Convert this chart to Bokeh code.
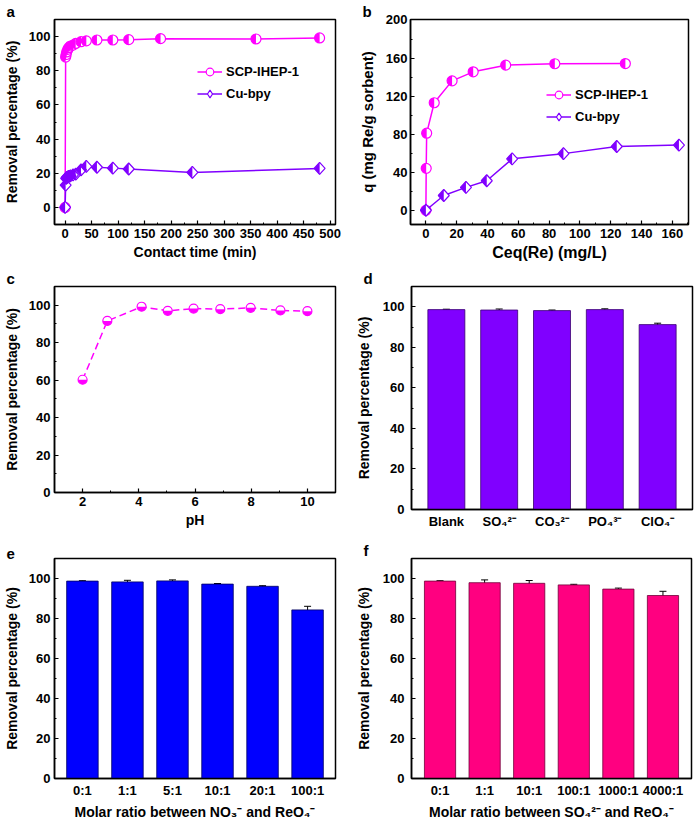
import math
from bokeh.plotting import figure
from bokeh.models import (Range1d, SingleIntervalTicker, FixedTicker, Legend, LegendItem,
                          Whisker, ColumnDataSource, TeeHead)
from bokeh.layouts import column, row
from bokeh.embed import file_html
from bokeh.resources import INLINE

FONT = "Liberation Sans"
MAGENTA = "#FF00FF"
PURPLE = "#8000FF"
BLUE = "#0000FF"
PINK = "#FF0080"

# ---------------- data ----------------
# (a) kinetics
a_time_scp = [0, 1, 2, 3, 5, 7, 10, 15, 20, 30, 40, 60, 90, 120, 180, 360, 480]
a_rem_scp = [0, 88, 89.5, 91, 92.5, 93.5, 94.5, 95, 96, 97, 97.5, 98, 98, 98.2, 98.8, 98.6, 99.2]
a_time_cu = [0, 1, 2, 3, 5, 7, 10, 15, 20, 30, 40, 60, 90, 120, 240, 480]
a_rem_cu = [0, 13, 17, 17.5, 17.8, 18.2, 18.5, 19, 19.5, 22, 24, 23.5, 23, 22.5, 20.5, 22.8]

# (b) isotherms
b_ceq_scp = [0, 0.2, 0.5, 5.4, 17, 30.7, 51.8, 83.7, 129.5]
b_q_scp = [0, 44, 81, 113, 136, 145.5, 152.5, 154, 154.2]
b_ceq_cu = [0, 11.6, 26, 39.5, 56, 89.3, 123.9, 164.3]
b_q_cu = [0, 15.5, 24, 31, 54, 59.5, 67, 68.5]

# (c) pH effect
c_ph = [2.0, 2.88, 4.1, 5.03, 5.95, 6.9, 7.98, 9.04, 10.0]
c_rem = [60.2, 91.6, 99.2, 97.0, 98.2, 97.9, 98.6, 97.2, 96.8]

# (d) competing anions
d_labels = ["Blank", "SO\u2084\u00b2\u207b", "CO\u2083\u00b2\u207b", "PO\u2084\u00b3\u207b", "ClO\u2084\u207b"]
d_vals = [98.6, 98.4, 98.1, 98.6, 91.2]
d_err = [0.2, 0.5, 0.3, 0.4, 0.7]

# (e) nitrate ratio
e_labels = ["0:1", "1:1", "5:1", "10:1", "20:1", "100:1"]
e_vals = [98.7, 98.3, 98.8, 97.2, 96.1, 84.3]
e_err = [0.2, 0.8, 0.5, 0.3, 0.3, 1.8]

# (f) sulfate ratio
f_labels = ["0:1", "1:1", "10:1", "100:1", "1000:1", "4000:1"]
f_vals = [98.7, 97.9, 97.6, 96.8, 94.7, 91.5]
f_err = [0.2, 1.4, 1.4, 0.3, 0.5, 2.1]

Y_TITLE = "Removal percentage (%)"


def make_fig(letter, xr, yr, fw, fh, bl, br, bt, bb):
    p = figure(title=letter, frame_width=fw, frame_height=fh,
               x_range=Range1d(*xr), y_range=Range1d(*yr),
               min_border_left=bl, min_border_right=br, min_border_top=bt, min_border_bottom=bb,
               output_backend="svg", toolbar_location=None)
    p.title.align = "left"
    p.title.offset = -48
    p.title.standoff = 0
    p.title.text_font = FONT
    p.title.text_font_style = "bold"
    p.title.text_font_size = "15px"
    p.title.text_color = "black"
    p.xgrid.visible = False
    p.ygrid.visible = False
    p.outline_line_color = "black"
    p.outline_line_width = 1.5
    p.outline_line_alpha = 1.0
    for ax in (p.xaxis[0], p.yaxis[0]):
        ax.axis_line_width = 1.5
        ax.axis_line_color = "black"
        ax.major_tick_in = 4
        ax.major_tick_out = 0
        ax.minor_tick_in = 2
        ax.minor_tick_out = 0
        ax.major_tick_line_width = 1.2
        ax.minor_tick_line_width = 1.0
        ax.major_label_text_font = FONT
        ax.major_label_text_font_style = "bold"
        ax.major_label_text_font_size = "13px"
        ax.major_label_text_color = "black"
        ax.axis_label_text_font = FONT
        ax.axis_label_text_font_style = "bold"
        ax.axis_label_text_font_size = "14px"
        ax.axis_label_text_color = "black"
    p.yaxis[0].major_label_standoff = 4
    p.yaxis[0].axis_label_standoff = 6
    p.xaxis[0].major_label_standoff = 4
    p.xaxis[0].axis_label_standoff = 3
    return p


def half_circles(p, x, y, color, start, end, r=5.0):
    rend = p.scatter(x, y, marker="circle", size=2 * r, fill_color="white",
                     line_color=color, line_width=1.2)
    p.wedge(x, y, radius=r, radius_units="screen", start_angle=start, end_angle=end,
            fill_color=color, line_color=None)
    return rend


def half_diamonds(p, x, y, color, xr, yr, fw, fh, hw=5.5, hh=6.0):
    dx = hw * (xr[1] - xr[0]) / fw
    dy = hh * (yr[1] - yr[0]) / fh
    leg = p.scatter(x, y, marker="diamond", size=11, fill_color="white",
                    line_color=color, line_width=1.2)
    xs_full = [[xi, xi + dx, xi, xi - dx] for xi in x]
    ys_full = [[yi + dy, yi, yi - dy, yi] for yi in y]
    xs_half = [[xi, xi - dx, xi] for xi in x]
    ys_half = [[yi + dy, yi, yi - dy] for yi in y]
    p.patches(xs_full, ys_full, fill_color="white", line_color=None)
    p.patches(xs_half, ys_half, fill_color=color, line_color=None)
    p.patches(xs_full, ys_full, fill_color=None, line_color=color, line_width=1.2)
    return leg


def legend(p, items, loc):
    lg = Legend(items=items, location=loc, border_line_color=None,
                background_fill_alpha=0, padding=0, margin=0, spacing=3,
                glyph_width=25, glyph_height=19, label_height=19, label_standoff=4,
                label_text_font=FONT, label_text_font_style="bold",
                label_text_font_size="13px", label_text_color="black")
    p.add_layout(lg)


# ---------------- panel a ----------------
axr, ayr, afw, afh = (-20, 510), (-10, 110), 281, 205
pa = make_fig("a", axr, ayr, afw, afh, 49, 17, 18, 43)
pa.xaxis.ticker = SingleIntervalTicker(interval=50, num_minor_ticks=2)
pa.yaxis.ticker = SingleIntervalTicker(interval=20, num_minor_ticks=2)
pa.xaxis.axis_label = "Contact time (min)"
pa.yaxis.axis_label = Y_TITLE
la1 = pa.line(a_time_scp, a_rem_scp, line_color=MAGENTA, line_width=1.5)
ma1 = half_circles(pa, a_time_scp, a_rem_scp, MAGENTA, math.pi / 2, 3 * math.pi / 2)
la2 = pa.line(a_time_cu, a_rem_cu, line_color=PURPLE, line_width=1.5)
ma2 = half_diamonds(pa, a_time_cu, a_rem_cu, PURPLE, axr, ayr, afw, afh)
legend(pa, [LegendItem(label="SCP-IHEP-1", renderers=[la1, ma1]),
            LegendItem(label="Cu-bpy", renderers=[la2, ma2])], (143, 121))

# ---------------- panel b ----------------
bxr, byr, bfw, bfh = (-10, 170.5), (-15, 200.5), 278, 205
pb = make_fig("b", bxr, byr, bfw, bfh, 58, 5, 18, 43)
pb.xaxis.ticker = SingleIntervalTicker(interval=20, num_minor_ticks=2)
pb.yaxis.ticker = SingleIntervalTicker(interval=40, num_minor_ticks=2)
pb.yaxis.major_label_standoff = 3
pb.yaxis.axis_label_standoff = 7
pb.xaxis.axis_label = "Ceq(Re) (mg/L)"
pb.yaxis.axis_label = "q (mg Re/g sorbent)"
pb.xaxis.axis_label_text_font_size = "16px"
pb.yaxis.axis_label_text_font_size = "15px"
lb1 = pb.line(b_ceq_scp, b_q_scp, line_color=MAGENTA, line_width=1.5)
mb1 = half_circles(pb, b_ceq_scp, b_q_scp, MAGENTA, math.pi / 2, 3 * math.pi / 2)
lb2 = pb.line(b_ceq_cu, b_q_cu, line_color=PURPLE, line_width=1.5)
mb2 = half_diamonds(pb, b_ceq_cu, b_q_cu, PURPLE, bxr, byr, bfw, bfh)
legend(pb, [LegendItem(label="SCP-IHEP-1", renderers=[lb1, mb1]),
            LegendItem(label="Cu-bpy", renderers=[lb2, mb2])], (136, 98))

# ---------------- panel c ----------------
cxr, cyr, cfw, cfh = (1, 11), (0, 110), 281, 206
pc = make_fig("c", cxr, cyr, cfw, cfh, 49, 17, 18, 47)
pc.xaxis.ticker = SingleIntervalTicker(interval=2, num_minor_ticks=2)
pc.yaxis.ticker = SingleIntervalTicker(interval=20, num_minor_ticks=2)
pc.xaxis.axis_label = "pH"
pc.yaxis.axis_label = Y_TITLE
pc.line(c_ph, c_rem, line_color=MAGENTA, line_width=1.5, line_dash="7 4")
half_circles(pc, c_ph, c_rem, MAGENTA, math.pi, 2 * math.pi, r=4.5)


# ---------------- bar panels ----------------
def bar_panel(letter, labels, vals, errs, color, outline, xr, fw, fh, bl, br, bt, bb, xtitle):
    p = make_fig(letter, xr, (0, 110), fw, fh, bl, br, bt, bb)
    pos = list(range(1, len(labels) + 1))
    p.xaxis.ticker = FixedTicker(ticks=pos)
    p.xaxis.major_label_overrides = {i: lab for i, lab in zip(pos, labels)}
    p.xaxis.major_tick_in = 0
    p.xaxis.minor_tick_in = 0
    p.yaxis.ticker = SingleIntervalTicker(interval=20, num_minor_ticks=2)
    p.yaxis.axis_label = Y_TITLE
    if xtitle:
        p.xaxis.axis_label = xtitle
    src = ColumnDataSource(dict(x=pos, top=vals,
                                upper=[v + e for v, e in zip(vals, errs)],
                                lower=[v - e for v, e in zip(vals, errs)]))
    p.vbar(x="x", top="top", width=0.7, bottom=0, source=src, fill_color=color,
           line_color=outline, line_width=0.8)
    p.add_layout(Whisker(source=src, base="x", upper="upper", lower="lower",
                         line_color="black", line_width=1,
                         upper_head=TeeHead(size=7, line_color="black", line_width=1),
                         lower_head=TeeHead(size=7, line_color="black", line_width=1)))
    return p


pd_ = bar_panel("d", d_labels, d_vals, d_err, PURPLE, "#3a0070", (0.34, 5.66), 281, 223, 58, 2, 18, 30, None)
pd_.yaxis.major_label_standoff = 7
pd_.yaxis.axis_label_standoff = 8

pe = bar_panel("e", e_labels, e_vals, e_err, BLUE, "#000060", (0.38, 6.62), 281, 220, 49, 17, 18, 39,
               "Molar ratio between NO\u2083\u207b and ReO\u2084\u207b")

pf = bar_panel("f", f_labels, f_vals, f_err, PINK, "#700038", (0.36, 6.64), 280, 220, 58, 3, 18, 39,
               "Molar ratio between SO\u2084\u00b2\u207b and ReO\u2084\u207b")
pf.yaxis.major_label_standoff = 7
pf.yaxis.axis_label_standoff = 8

layout = column(row(pa, pb), row(pc, pd_), row(pe, pf))
open("out.html", "w").write(file_html(layout, INLINE))
